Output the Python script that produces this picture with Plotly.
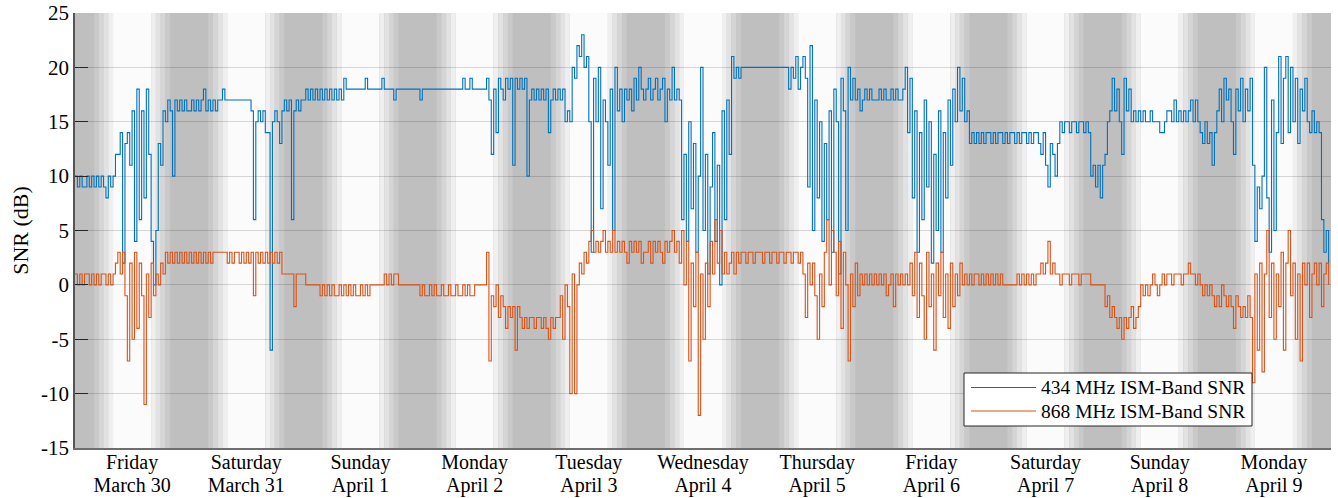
import plotly.graph_objects as go
from datetime import datetime, timedelta

# ---------------- data (30-minute samples, integer SNR in dB) ----------------
day_names = ["Friday", "Saturday", "Sunday", "Monday", "Tuesday", "Wednesday",
             "Thursday", "Friday", "Saturday", "Sunday", "Monday"]
date_labels = ["March 30", "March 31", "April 1", "April 2", "April 3", "April 4",
               "April 5", "April 6", "April 7", "April 8", "April 9"]

snr434_mar30 = [10,9,10,9,9,10,9,10,9,10,9,10,9,8,10,9,
                10,12,12,14,2,13,14,11,16,4,18,6,16,8,18,12,
                4,0,5,13,11,16,15,17,16,10,17,16,17,16,17,16]
snr434_mar31 = [16,17,16,17,16,17,18,16,17,16,17,16,17,17,18,17,
                17,17,17,17,17,17,17,17,17,17,
                16,6,15,16,15,16,14,14,-6,15,16,15,13,16,17,16,17,6,16,17,16,17]
snr434_apr01 = [17,18,17,18,17,18,17,18,17,18,17,18,17,18,17,18,17,
                19,18,18,18,18,18,18,18,18,19,18,18,18,18,18,18,19,
                18,18,18,18,17,18,18,18,18,18,18,18,18,18]
snr434_apr02 = [18,17,18,18,18,18,18,18,18,18,18,18,18,18,18,18,18,18,18,
                19,18,18,19,18,18,18,18,18,18,
                19,17,12,18,14,19,18,17,19,18,19,11,19,18,19,18,19,10,17]
snr434_apr03 = [18,17,18,17,18,17,18,14,17,18,17,18,17,18,15,16,
                15,20,19,22,21,23,20,21,15,3,19,15,20,7,17,15,
                11,18,5,20,16,18,15,18,17,18,16,19,17,20,18,17]
snr434_apr04 = [18,19,17,18,19,17,18,19,15,18,17,20,17,18,17,6,
                12,4,15,7,13,3,10,20,5,12,1,9,14,4,11,0,
                16,6,17,12,21,19,20,19,20,20,20,20,20,20,20,20]
snr434_apr05 = [20,20,20,20,20,20,20,20,20,20,20,20,
                18,20,19,21,18,20,21,19,9,22,5,17,8,15,4,13,
                6,16,3,18,15,1,19,16,5,20,17,19,17,18,16,17,18,17,18,17]
snr434_apr06 = [17,17,18,17,18,17,17,18,17,18,17,17,18,20,14,19,
                8,16,3,14,6,17,9,15,2,12,5,16,3,14,8,17,
                11,18,15,20,16,19,15,16,13,14,13,14,13,14,13,14]
snr434_apr07 = [14,13,14,13,14,14,13,14,13,14,14,13,14,13,14,14,
                13,14,13,14,14,13,12,14,11,9,13,12,10,13,15,14,
                15,15,14,15,15,14,15,15,14,15,14,10,11,9,11,8]
snr434_apr08 = [11,12,15,16,19,16,18,15,12,19,16,18,15,16,15,16,
                15,16,15,15,16,15,15,15,14,14,15,16,16,15,17,15,
                16,15,16,15,16,17,15,17,15,14,13,15,13,14,11,14]
snr434_apr09 = [16,18,15,19,17,18,15,12,18,16,19,15,18,16,19,11,
                4,9,7,10,20,8,3,17,5,14,21,13,19,21,14,20,
                15,19,13,18,16,19,15,14,16,14,15,14,6,3,5,2]

snr868_mar30 = [1,0,1,0,1,1,0,1,0,1,0,1,1,0,1,0,
                1,2,3,1,3,-1,-7,2,-5,3,-4,2,-1,-11,1,-3,
                2,-1,1,0,2,1,3,2,3,2,3,2,3,2,3,2]
snr868_mar31 = [3,2,3,2,3,2,3,2,3,2,3,3,3,3,3,3,
                2,3,2,3,3,2,3,2,3,2,3,-1,3,2,3,2,
                3,2,3,2,3,2,3,1,1,1,1,1,-2,1,1,1]
snr868_apr01 = [1,0,0,0,0,0,0,-1,0,-1,0,-1,0,-1,-1,0,
                -1,0,-1,0,-1,0,-1,-1,0,-1,0,-1,0,0,0,0,
                0,0,1,0,1,0,1,1,0,0,0,0,0,0,0,0]
snr868_apr02 = [0,-1,0,-1,-1,0,-1,0,-1,-1,0,-1,-1,0,-1,-1,
                0,-1,-1,0,-1,0,-1,-1,0,0,0,0,0,3,-7,-1,
                -2,0,-3,-1,-2,-4,-2,-3,-2,-6,-2,-3,-4,-3,-4,-3]
snr868_apr03 = [-3,-4,-3,-3,-4,-3,-4,-5,-3,-4,-3,-3,-1,-5,0,-2,
                -10,1,-10,0,2,1,3,2,4,5,3,4,3,4,5,3,
                4,3,5,3,4,3,4,3,2,4,3,4,3,4,2,3]
snr868_apr04 = [3,4,2,4,3,4,3,2,4,3,4,5,3,4,2,5,
                0,4,-7,2,-2,3,-12,1,-5,2,-2,4,1,6,2,5,
                1,3,1,2,3,1,3,2,3,3,2,3,3,2,3,3]
snr868_apr05 = [3,2,3,3,2,3,3,2,3,3,2,3,3,2,3,3,
                2,3,1,-3,2,0,2,-1,-5,1,-2,3,6,0,5,3,
                -1,4,-4,3,0,-7,1,-2,2,-1,1,0,1,0,1,0]
snr868_apr06 = [1,0,1,0,1,-1,0,1,-2,1,0,1,0,1,0,2,
                -1,3,-3,2,-1,-5,3,-2,1,-6,2,-1,3,-3,1,-4,
                2,-2,1,-1,2,0,1,0,1,0,1,1,0,1,0,1]
snr868_apr07 = [0,1,0,1,0,1,0,0,0,0,0,0,1,0,1,0,
                1,0,1,0,1,1,2,1,2,4,1,2,1,1,0,1,
                1,1,0,1,1,1,0,1,1,1,1,0,0,0,0,0]
snr868_apr08 = [0,-2,-1,-3,-2,-3,-4,-3,-5,-3,-4,-3,-2,-4,-3,-2,
                0,-1,0,-1,0,1,0,-1,0,1,0,1,1,0,1,1,
                1,0,1,1,2,1,1,0,1,0,-1,0,-1,0,-1,-2]
snr868_apr09 = [-1,-2,0,-1,-2,-1,-2,-4,-1,-2,-3,-2,-3,-1,-3,-9,
                1,-6,2,-8,1,5,-3,2,-5,1,-2,3,-6,2,5,-1,
                2,-5,1,-7,2,0,2,-3,1,2,0,2,-2,1,2,0]

series_names = ["434 MHz ISM-Band SNR", "868 MHz ISM-Band SNR"]
y_ticks = [-15, -10, -5, 0, 5, 10, 15, 20, 25]
y_ticktext = ["-15", "-10", "-5", "0", "5", "10", "15", "20", "25"]

# ---------------- assemble ----------------
snr434 = (snr434_mar30 + snr434_mar31 + snr434_apr01 + snr434_apr02 + snr434_apr03 +
          snr434_apr04 + snr434_apr05 + snr434_apr06 + snr434_apr07 + snr434_apr08 +
          snr434_apr09)
snr868 = (snr868_mar30 + snr868_mar31 + snr868_apr01 + snr868_apr02 + snr868_apr03 +
          snr868_apr04 + snr868_apr05 + snr868_apr06 + snr868_apr07 + snr868_apr08 +
          snr868_apr09)

start = datetime(2018, 3, 30)
step = timedelta(minutes=30)
t434 = [start + i * step for i in range(len(snr434))]
t868 = [start + i * step for i in range(len(snr868))]
n_days = len(day_names)
end = start + timedelta(days=n_days)

BLUE = "#0072BD"
ORANGE = "#D95319"
FONT = "Liberation Serif"
TXT = "#262626"

fig = go.Figure()
fig.add_trace(go.Scatter(x=t434, y=snr434, mode="lines", line=dict(color=BLUE, width=1.1, shape="hv"),
                         name=series_names[0], showlegend=False, xaxis="x", yaxis="y"))
# second series on an overlaid x-axis that carries the date line of the tick labels
fig.add_trace(go.Scatter(x=t868, y=snr868, mode="lines", line=dict(color=ORANGE, width=1.1, shape="hv"),
                         name=series_names[1], showlegend=False, xaxis="x2", yaxis="y"))

# ---------------- day / night shading ----------------
night = "#bfbfbf"
steps = [(4, 5, "#c9c9c9"), (5, 6, "#d5d5d5"), (6, 7, "#e2e2e2"), (7, 8, "#efefef"),
         (8, 16, "#fbfbfb"),
         (16, 17, "#efefef"), (17, 18, "#e2e2e2"), (18, 19, "#d5d5d5"), (19, 20, "#c9c9c9")]
shapes = []
for d in range(n_days):
    base = start + timedelta(days=d)
    for h0, h1, c in steps:
        shapes.append(dict(type="rect", xref="x", yref="paper", layer="below",
                           x0=base + timedelta(hours=h0), x1=base + timedelta(hours=h1),
                           y0=0, y1=1, fillcolor=c, line=dict(width=0)))

# ---------------- custom legend (pixel geometry -> paper) ----------------
L, R, T, B = 75, 1331, 13, 448
def px(xp):
    return (xp - L) / (R - L)
def py(yp):
    return (B - yp) / (B - T)

shapes.append(dict(type="rect", xref="paper", yref="paper", layer="above",
                   x0=px(964), x1=px(1252), y0=py(426), y1=py(373),
                   fillcolor="white", line=dict(color=TXT, width=1)))
annotations = []
for k, (yy, col) in enumerate([(387.5, BLUE), (411, ORANGE)]):
    shapes.append(dict(type="line", xref="paper", yref="paper", layer="above",
                       x0=px(971), x1=px(1036), y0=py(yy), y1=py(yy),
                       line=dict(color=col, width=1.2)))
    annotations.append(dict(xref="paper", yref="paper", x=px(1039), y=py(yy),
                            xanchor="left", yanchor="middle", showarrow=False,
                            text=series_names[k], font=dict(family=FONT, size=19.5, color="black")))

tickvals = [start + timedelta(days=d, hours=12) for d in range(n_days)]

fig.update_layout(
    width=1338, height=498,
    margin=dict(l=L, r=1338 - R, t=T, b=498 - B, autoexpand=False),
    paper_bgcolor="white", plot_bgcolor=night,
    shapes=shapes, annotations=annotations,
    showlegend=False,
    font=dict(family=FONT, size=21, color=TXT),
    xaxis=dict(type="date", range=[start, end], tickvals=tickvals, ticktext=day_names,
               showgrid=False, zeroline=False, ticks="", showline=True, linecolor="#6e6e6e",
               linewidth=1.5, tickfont=dict(family=FONT, size=20, color="black"),
               automargin=False, ticklabelstandoff=-5),
    xaxis2=dict(type="date", overlaying="x", matches="x", anchor="y", side="bottom",
                tickvals=tickvals, ticktext=date_labels,
                showgrid=False, zeroline=False, ticks="", showline=False,
                tickfont=dict(family=FONT, size=20, color="black"),
                automargin=False, ticklabelstandoff=23),
    yaxis=dict(range=[-15, 25], tickvals=y_ticks, ticktext=y_ticktext, ticks="inside", ticklen=13,
               tickcolor=TXT, tickwidth=1, showgrid=True, gridcolor="rgba(0,0,0,0.15)", gridwidth=1,
               zeroline=False, showline=True, linecolor="#555555", linewidth=1.5, automargin=False,
               tickfont=dict(family=FONT, size=21, color="black"),
               title=dict(text="SNR (dB)", font=dict(family=FONT, size=22, color="black"), standoff=6)),
)

fig.write_html("out.html", post_script="document.body.style.margin='0px';",
               config={"displayModeBar": False})
